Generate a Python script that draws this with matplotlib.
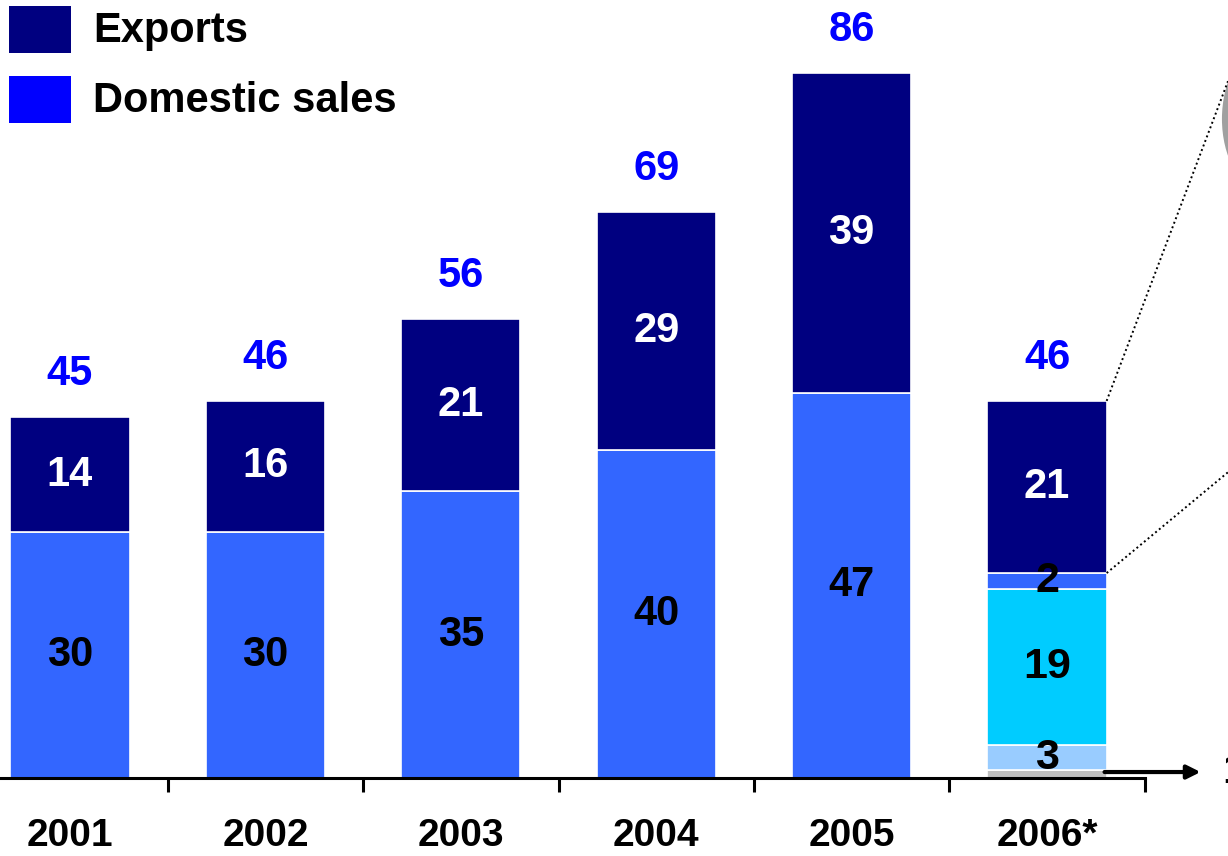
import matplotlib
matplotlib.use("Agg")
import matplotlib.pyplot as plt
from matplotlib.patches import Rectangle, Ellipse

plt.rcParams["font.family"] = ["Liberation Sans", "DejaVu Sans"]
plt.rcParams["font.weight"] = "bold"

years = ["2001", "2002", "2003", "2004", "2005", "2006*"]
domestic = [30, 30, 35, 40, 47]           # 2001-2005
exports = [14, 16, 21, 29, 39, 21]
totals = [45, 46, 56, 69, 86, 46]
# 2006 domestic split, bottom to top
split_2006 = [1, 3, 19, 2]
split_colors = ["#c0c0c0", "#99ccff", "#00ccff", "#3366ff"]
split_shown = [False, True, True, True]

legend_labels = ["Exports", "Domestic sales"]
legend_colors = ["#000080", "#0000ff"]

NAVY = "#000080"
BLUE = "#3366ff"
W = 0.61
FIG_W, FIG_H = 1228, 856

fig = plt.figure(figsize=(12.28, 8.56), dpi=100)
ax = fig.add_axes([0, 0.0911, 1, 0.9089])
ax.set_xlim(-0.358, 5.926)
ax.set_ylim(0, 94.9)

xs = list(range(len(years)))

# domestic + exports for 2001-2005
for i, d in enumerate(domestic):
    ax.bar(i, d, W, color=BLUE, edgecolor="white", linewidth=1.2)
    ax.text(i, d / 2, str(d), ha="center", va="center", fontsize=30, color="black")

# 2006 domestic breakdown
x6 = len(years) - 1
base = 0
for v, c, show in zip(split_2006, split_colors, split_shown):
    ax.bar(x6, v, W, bottom=base, color=c, edgecolor="white", linewidth=1.2)
    if show:
        ax.text(x6, base + v / 2, str(v), ha="center", va="center", fontsize=31, color="black")
    base += v
dom_all = domestic + [base]

for i, e in enumerate(exports):
    ax.bar(i, e, W, bottom=dom_all[i], color=NAVY, edgecolor="white", linewidth=1.2)
    ax.text(i, dom_all[i] + e / 2, str(e), ha="center", va="center", fontsize=30, color="white")
    ax.annotate(str(totals[i]), (i, dom_all[i] + e), xytext=(0, 31), textcoords="offset points",
                ha="center", va="center", fontsize=30, color="#0000ff")

# arrow for the smallest 2006 slice
ay = split_2006[0] * 0.73
ax.annotate("", xy=(5.80, ay), xytext=(5.28, ay),
            arrowprops=dict(arrowstyle="-|>,head_length=0.8,head_width=0.4", color="black", lw=3),
            annotation_clip=False)
ax.text(5.896, ay, str(split_2006[0]), ha="left", va="center",
        fontsize=31, color="black", clip_on=False)

# dotted connectors from the 2006 exports bar
top6 = dom_all[-1] + exports[-1]
ax.plot([x6 + W / 2, 5.926], [top6, 85.0], ls=(0, (1, 1.5)), color="black", lw=1.4, clip_on=False)
ax.plot([x6 + W / 2, 5.926], [dom_all[-1], 37.3], ls=(0, (1, 1.5)), color="black", lw=1.4, clip_on=False)
ax.add_patch(Ellipse((6.1, 80.4), 0.41, 17.0, facecolor="#a0a0a0", edgecolor="none", clip_on=False))

# axis styling
for s in ["top", "right", "left"]:
    ax.spines[s].set_visible(False)
ax.spines["bottom"].set_linewidth(2.2)
ax.spines["bottom"].set_bounds(-0.358, 5.5)
ax.set_yticks([])
ax.set_xticks(xs)
ax.set_xticklabels(years, fontsize=28)
ax.set_xticks([i + 0.5 for i in xs], minor=True)
ax.tick_params(axis="x", which="major", length=0, pad=29)
ax.tick_params(axis="x", which="minor", length=10, width=2.2, direction="out")

# legend: colour squares with labels, top left
for k, (lab, col) in enumerate(zip(legend_labels, legend_colors)):
    top = 6 + 70 * k
    fig.add_artist(Rectangle((9 / FIG_W, 1 - (top + 47) / FIG_H), 62 / FIG_W, 47 / FIG_H,
                             transform=fig.transFigure, facecolor=col, edgecolor="none"))
    fig.text(93 / FIG_W, 1 - (top + 25) / FIG_H, lab, ha="left", va="center",
             fontsize=30, color="black")

fig.savefig("out.png", dpi=100)
